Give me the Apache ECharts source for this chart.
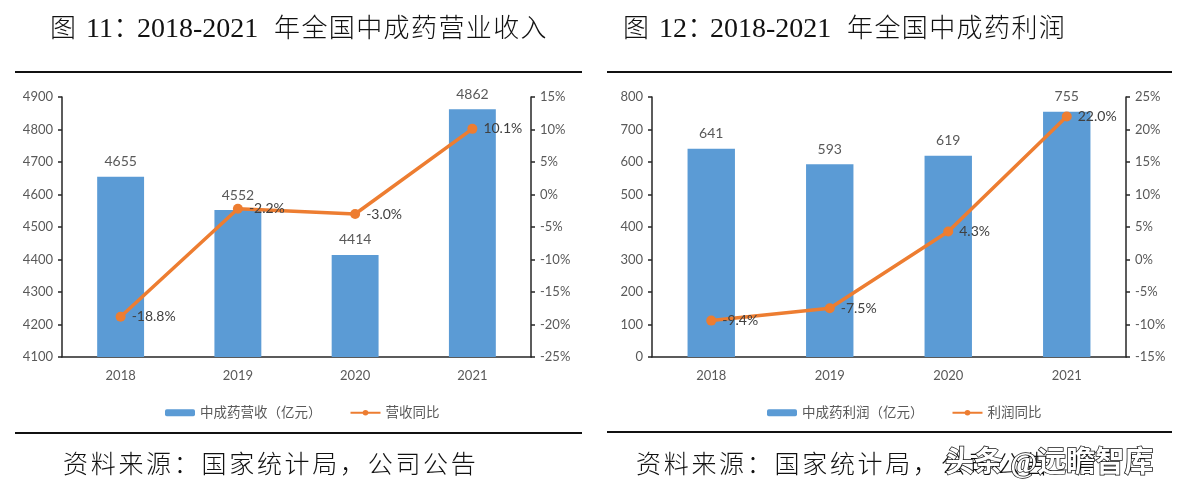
<!DOCTYPE html>
<html>
<head>
<meta charset="utf-8">
<script src="https://cdn.jsdelivr.net/npm/echarts@6/dist/echarts.min.js"></script>
<style>html,body{margin:0;padding:0;background:#fff;}#c{width:1186px;height:497px;}</style>
</head>
<body>
<div id="c"></div>
<script>
const years = ['2018', '2019', '2020', '2021'];
const revenue = [4655, 4552, 4414, 4862];
const revenueYoY = [-18.8, -2.2, -3.0, 10.1];
const profit = [641, 593, 619, 755];
const profitYoY = [-9.4, -7.5, 4.3, 22.0];
const revAxis = [4100, 4900, 100];
const revPctAxis = [-25, 15, 5];
const proAxis = [0, 800, 100];
const proPctAxis = [-15, 25, 5];
const legendNames1 = ['中成药营收（亿元）', '营收同比'];
const legendNames2 = ['中成药利润（亿元）', '利润同比'];
const title1 = ['图', '11：', '2018-2021', '年全国中成药营业收入'];
const title2 = ['图', '12：', '2018-2021', '年全国中成药利润'];
const sourceText = '资料来源：国家统计局，公司公告';
const watermark = '头条 @远瞻智库';

const chart = echarts.init(document.getElementById('c'));
const FONT_AX = "Lato, 'Noto Sans CJK SC', sans-serif";
const FONT_SERIF = "'Liberation Serif', 'Noto Sans CJK SC', serif";
const GRAY = '#595959';
const AXC = '#262626';

function charText(str, x0, y, pitch, size, out) {
  for (let i = 0; i < str.length; i++) {
    out.push({type: 'text', style: {text: str[i], x: x0 + i * pitch, y: y,
      fill: '#111', font: '300 ' + size + 'px ' + FONT_SERIF, verticalAlign: 'middle', align: 'left'}});
  }
}
function titleText(parts, x0, y, out) {
  out.push({type: 'text', style: {text: parts[0], x: x0, y: y, fill: '#111', font: '300 26px ' + FONT_SERIF, verticalAlign: 'middle'}});
  out.push({type: 'text', style: {text: parts[1], x: x0 + 36, y: y, fill: '#111', font: '300 28px ' + FONT_SERIF, verticalAlign: 'middle'}});
  out.push({type: 'text', style: {text: parts[2], x: x0 + 87, y: y, fill: '#111', font: '300 28px ' + FONT_SERIF, verticalAlign: 'middle'}});
  charText(parts[3], x0 + 224, y, 27.4, 26, out);
}

const graphics = [];
titleText(title1, 50, 30, graphics);
titleText(title2, 623, 30, graphics);
charText(sourceText, 63, 466, 27.7, 25, graphics);
charText(sourceText, 636, 466, 27.7, 25, graphics);
[[15, 582, 72], [607, 1172, 72], [15, 582, 433], [607, 1172, 432]].forEach(l => {
  graphics.push({type: 'line', shape: {x1: l[0], y1: l[2], x2: l[1], y2: l[2]}, style: {stroke: '#111', lineWidth: 2}});
});
graphics.push({type: 'text', z: 100, style: {text: watermark, x: 945, y: 465, fill: '#fff', stroke: '#111', lineWidth: 1.5,
  font: 'bold 29px ' + FONT_SERIF, verticalAlign: 'middle'}});

function yAx(gi, rng, pos, pct) {
  return {type: 'value', gridIndex: gi, position: pos, min: rng[0], max: rng[1], interval: rng[2],
    axisLine: {show: true, lineStyle: {color: AXC, width: 1.5}},
    axisTick: {show: true, length: 4, lineStyle: {color: AXC, width: 1.5}},
    splitLine: {show: false},
    axisLabel: {color: GRAY, fontSize: 13, fontFamily: FONT_AX, margin: 9,
      formatter: v => pct ? v + '%' : String(v)}};
}
function xAx(gi) {
  return {type: 'category', gridIndex: gi, data: years, boundaryGap: true,
    axisLine: {show: true, onZero: false, lineStyle: {color: AXC, width: 1.5}},
    axisTick: {show: false},
    axisLabel: {color: GRAY, fontSize: 13, fontFamily: FONT_AX, margin: 12}};
}
function barS(name, xi, yi, data) {
  return {name: name, type: 'bar', xAxisIndex: xi, yAxisIndex: yi, data: data, barWidth: '40%',
    itemStyle: {color: '#5B9BD5'},
    label: {show: true, position: 'top', distance: 8, color: GRAY, fontSize: 14, fontFamily: FONT_AX}};
}
function lineS(name, xi, yi, data) {
  return {name: name, type: 'line', xAxisIndex: xi, yAxisIndex: yi, data: data,
    symbol: 'circle', symbolSize: 10, itemStyle: {color: '#ED7D31'}, lineStyle: {color: '#ED7D31', width: 3.5},
    label: {show: true, position: 'right', distance: 6, color: '#404040', fontSize: 14, fontFamily: FONT_AX,
      formatter: p => p.value.toFixed(1) + '%'}};
}
function legendOf(names, left) {
  return {data: names, left: left, top: 401, orient: 'horizontal', itemWidth: 30, itemHeight: 7, itemGap: 28,
    textStyle: {color: GRAY, fontSize: 13.5, fontFamily: FONT_AX}, selectedMode: false};
}

chart.setOption({
  animation: false,
  backgroundColor: '#fff',
  grid: [
    {left: 62, top: 97, width: 469, height: 260},
    {left: 652, top: 97, width: 474, height: 260}
  ],
  xAxis: [xAx(0), xAx(1)],
  yAxis: [yAx(0, revAxis, 'left', false), yAx(0, revPctAxis, 'right', true),
          yAx(1, proAxis, 'left', false), yAx(1, proPctAxis, 'right', true)],
  legend: [legendOf(legendNames1, 160), legendOf(legendNames2, 762)],
  series: [
    barS(legendNames1[0], 0, 0, revenue),
    lineS(legendNames1[1], 0, 1, revenueYoY),
    barS(legendNames2[0], 1, 2, profit),
    lineS(legendNames2[1], 1, 3, profitYoY)
  ],
  graphic: graphics
});
</script>
</body>
</html>
